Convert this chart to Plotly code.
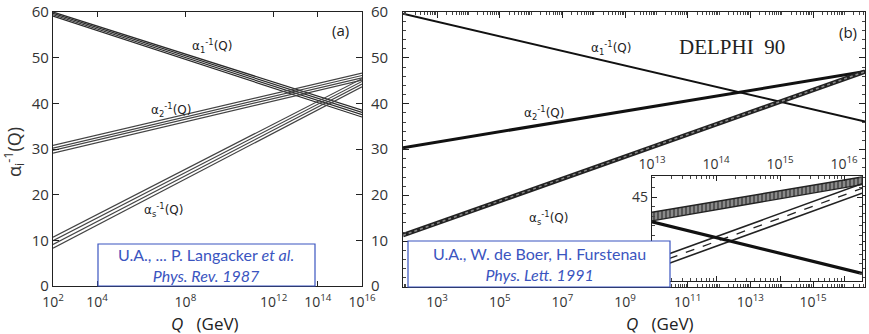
import plotly.graph_objects as go

# ---------------- data ----------------
# panel (a): Q range and band lines (left value, right value)
q_a = [1e2, 1e16]
alpha1_a = [[60.0, 38.5], [59.7, 38.0], [59.4, 37.5], [59.1, 37.0]]
alpha2_a = [[30.8, 46.6], [30.2, 46.1], [29.7, 45.6], [29.1, 45.1]]
alphas_a = [[10.7, 45.4], [9.9, 44.8], [9.1, 44.2], [8.3, 43.6]]
xticks_a = [1e2, 1e4, 1e8, 1e12, 1e14, 1e16]
xticktext_a = ["10<sup>2</sup>", "10<sup>4</sup>", "10<sup>8</sup>", "10<sup>12</sup>",
               "10<sup>14</sup>", "10<sup>16</sup>"]
yticks = [0, 10, 20, 30, 40, 50, 60]

# panel (b)
q_b = [10 ** 1.91, 10 ** 16.66]
alpha1_b = [59.6, 36.1]
alpha2_b = [30.4, 47.0]
alphas_b = [11.3, 47.0]
xticks_b = [1e3, 1e5, 1e7, 1e9, 1e11, 1e13, 1e15]
xticktext_b = ["10<sup>3</sup>", "10<sup>5</sup>", "10<sup>7</sup>", "10<sup>9</sup>",
               "10<sup>11</sup>", "10<sup>13</sup>", "10<sup>15</sup>"]

# inset of panel (b)
q_i = [1e13, 10 ** 16.28]
alpha1_i = [42.4, 37.0]
alpha2_i_hi = [43.4, 47.1]
alpha2_i_lo = [42.5, 46.3]
alphas_i_hi = [38.4, 46.4]
alphas_i_mid = [37.9, 45.9]
alphas_i_lo = [37.4, 45.4]
xticks_i = [1e13, 1e14, 1e15, 1e16]
xticktext_i = ["10<sup>13</sup>", "10<sup>14</sup>", "10<sup>15</sup>", "10<sup>16</sup>"]
yticks_i = [45]

W, H = 869, 334
def px(x): return x / W
def py(y): return 1 - y / H

fig = go.Figure()

# ---- panel (a) bands ----
for group, col in [(alpha1_a, "#2a2a2a"), (alpha2_a, "#444444"), (alphas_a, "#444444")]:
    for vals in group:
        fig.add_trace(go.Scatter(x=q_a, y=vals, mode="lines", xaxis="x", yaxis="y",
                                 line=dict(color=col, width=1.2), showlegend=False, hoverinfo="skip"))
# invisible trace so the right-hand duplicate axis of (a) is drawn
fig.add_trace(go.Scatter(x=q_a, y=[0, 60], mode="lines", xaxis="x", yaxis="y4",
                         line=dict(width=0), opacity=0, showlegend=False, hoverinfo="skip"))

# ---- panel (b) ----
fig.add_trace(go.Scatter(x=q_b, y=alpha1_b, mode="lines", xaxis="x2", yaxis="y2",
                         line=dict(color="#111111", width=2), showlegend=False))
fig.add_trace(go.Scatter(x=q_b, y=alpha2_b, mode="lines", xaxis="x2", yaxis="y2",
                         line=dict(color="#111111", width=3), showlegend=False))
fig.add_trace(go.Scatter(x=q_b, y=alphas_b, mode="lines", xaxis="x2", yaxis="y2",
                         line=dict(color="#222222", width=4.5), showlegend=False))
fig.add_trace(go.Scatter(x=q_b, y=alphas_b, mode="lines", xaxis="x2", yaxis="y2",
                         line=dict(color="#888888", width=1.5, dash="dot"), showlegend=False))

# ---- inset ----
fig.add_trace(go.Scatter(x=q_i, y=alpha2_i_lo, mode="lines", xaxis="x3", yaxis="y3",
                         line=dict(color="#222222", width=1.4), showlegend=False))
fig.add_trace(go.Scatter(x=q_i, y=alpha2_i_hi, mode="lines", xaxis="x3", yaxis="y3",
                         line=dict(color="#222222", width=1.4), fill="tonexty",
                         fillcolor="#777777",
                         fillpattern=dict(shape="|", fgcolor="#111111", bgcolor="#8a8a8a",
                                          size=4, solidity=0.45),
                         showlegend=False))
fig.add_trace(go.Scatter(x=q_i, y=alphas_i_lo, mode="lines", xaxis="x3", yaxis="y3",
                         line=dict(color="#222222", width=1.6), showlegend=False))
fig.add_trace(go.Scatter(x=q_i, y=alphas_i_hi, mode="lines", xaxis="x3", yaxis="y3",
                         line=dict(color="#222222", width=1.6), showlegend=False))
fig.add_trace(go.Scatter(x=q_i, y=alphas_i_mid, mode="lines", xaxis="x3", yaxis="y3",
                         line=dict(color="#222222", width=1.3, dash="dash"), showlegend=False))
fig.add_trace(go.Scatter(x=q_i, y=alpha1_i, mode="lines", xaxis="x3", yaxis="y3",
                         line=dict(color="#111111", width=3.2), showlegend=False))

tickfont = dict(family="Open Sans", size=14, color="#333333")
frame = dict(showline=True, linecolor="#222222", linewidth=1.3, mirror="ticks",
             ticks="inside", tickcolor="#222222", showgrid=False, zeroline=False,
             automargin=False)

fig.update_layout(
    width=W, height=H, margin=dict(l=0, r=0, t=0, b=0, autoexpand=False),
    paper_bgcolor="white", plot_bgcolor="white",
    xaxis=dict(type="log", domain=[px(53), px(362)], range=[2, 16], anchor="y",
               tickvals=xticks_a, ticktext=xticktext_a, ticklen=5, ticklabelstandoff=3,
               tickfont=tickfont, **frame),
    yaxis=dict(domain=[py(286), py(12)], range=[0, 60], anchor="x", tickvals=yticks,
               ticklen=6, tickfont=dict(family="Open Sans", size=15, color="#333333"), **frame),
    yaxis4=dict(overlaying="y", side="right", anchor="x", range=[0, 60], tickvals=yticks,
                showgrid=False, zeroline=False, ticks="", showline=False, automargin=False,
                ticklabelstandoff=8,
                tickfont=dict(family="Open Sans", size=15, color="#333333")),
    xaxis2=dict(type="log", domain=[px(403), px(865)], range=[1.91, 16.66], anchor="y2",
                tickvals=xticks_b, ticktext=xticktext_b, ticklen=6, ticklabelstandoff=2,
                tickfont=tickfont,
                minor=dict(ticks="inside", ticklen=3, dtick="D1", tickcolor="#444444"), **frame),
    yaxis2=dict(domain=[py(287), py(12)], range=[0, 60], anchor="x2", tickvals=yticks,
                showticklabels=False, ticklen=6,
                minor=dict(ticks="inside", ticklen=3, dtick=2, tickcolor="#444444"), **frame),
    xaxis3=dict(type="log", domain=[px(652), px(862)], range=[13, 16.28], anchor="y3",
                side="top", tickvals=xticks_i, ticktext=xticktext_i, ticklen=5,
                tickfont=dict(family="Open Sans", size=14, color="#333333"),
                minor=dict(ticks="inside", ticklen=3, dtick="D1", tickcolor="#444444"), **frame),
    yaxis3=dict(domain=[py(281), py(176)], range=[36.2, 47.2], anchor="x3", tickvals=yticks_i,
                ticklen=5, tickfont=dict(family="Open Sans", size=14, color="#333333"),
                minor=dict(ticks="inside", ticklen=3, dtick=1, tickcolor="#444444"), **frame),
)

lab = dict(family="DejaVu Sans", size=12, color="#222222")
ann = [
    # curve labels (a)
    dict(x=px(212), y=py(46), text="α<sub>1</sub><sup>-1</sup>(Q)", font=lab),
    dict(x=px(171), y=py(110), text="α<sub>2</sub><sup>-1</sup>(Q)", font=lab),
    dict(x=px(163), y=py(210), text="α<sub>s</sub><sup>-1</sup>(Q)", font=lab),
    # curve labels (b)
    dict(x=px(611), y=py(48), text="α<sub>1</sub><sup>-1</sup>(Q)", font=lab),
    dict(x=px(544), y=py(113), text="α<sub>2</sub><sup>-1</sup>(Q)", font=lab),
    dict(x=px(548), y=py(218), text="α<sub>s</sub><sup>-1</sup>(Q)", font=lab),
    dict(x=px(732), y=py(47), text="DELPHI  90",
         font=dict(family="Liberation Serif", size=21, color="#222222")),
    dict(x=px(340), y=py(30), text="(a)", font=dict(family="Open Sans", size=15, color="#222222")),
    dict(x=px(848), y=py(32), text="(b)", font=dict(family="Open Sans", size=15, color="#222222")),
    # axis titles
    dict(x=px(14), y=py(152), text="α<sub>i</sub><sup>-1</sup>(Q)", textangle=-90,
         font=dict(family="Open Sans", size=18, color="#333333")),
    dict(x=px(205), y=py(323), text="<i>Q</i>   (GeV)",
         font=dict(family="Open Sans", size=17, color="#222222")),
    dict(x=px(660), y=py(323), text="<i>Q</i>   (GeV)",
         font=dict(family="Open Sans", size=17, color="#222222")),
    # reference boxes
    dict(x=px(206), y=py(265), text="U.A., ... P. Langacker <i>et al.</i><br><i>Phys. Rev. 1987</i>",
         font=dict(family="Lato", size=16, color="#3b55c0")),
    dict(x=px(539), y=py(264), text="U.A., W. de Boer, H. Furstenau<br><i>Phys. Lett. 1991</i>",
         font=dict(family="Lato", size=16, color="#3b55c0")),
]
for a in ann:
    a.update(xref="paper", yref="paper", showarrow=False, xanchor="center", yanchor="middle")
fig.update_layout(annotations=ann)

fig.update_layout(shapes=[
    dict(type="rect", xref="paper", yref="paper", x0=px(98), x1=px(315), y0=py(286), y1=py(244),
         fillcolor="white", line=dict(color="#3b55c0", width=1.2), layer="above"),
    dict(type="rect", xref="paper", yref="paper", x0=px(408), x1=px(670), y0=py(287), y1=py(241),
         fillcolor="white", line=dict(color="#3b55c0", width=1.2), layer="above"),
])

fig.write_html("out.html", config={"displayModeBar": False},
               post_script="document.body.style.margin='0px';document.body.style.overflow='hidden';")
